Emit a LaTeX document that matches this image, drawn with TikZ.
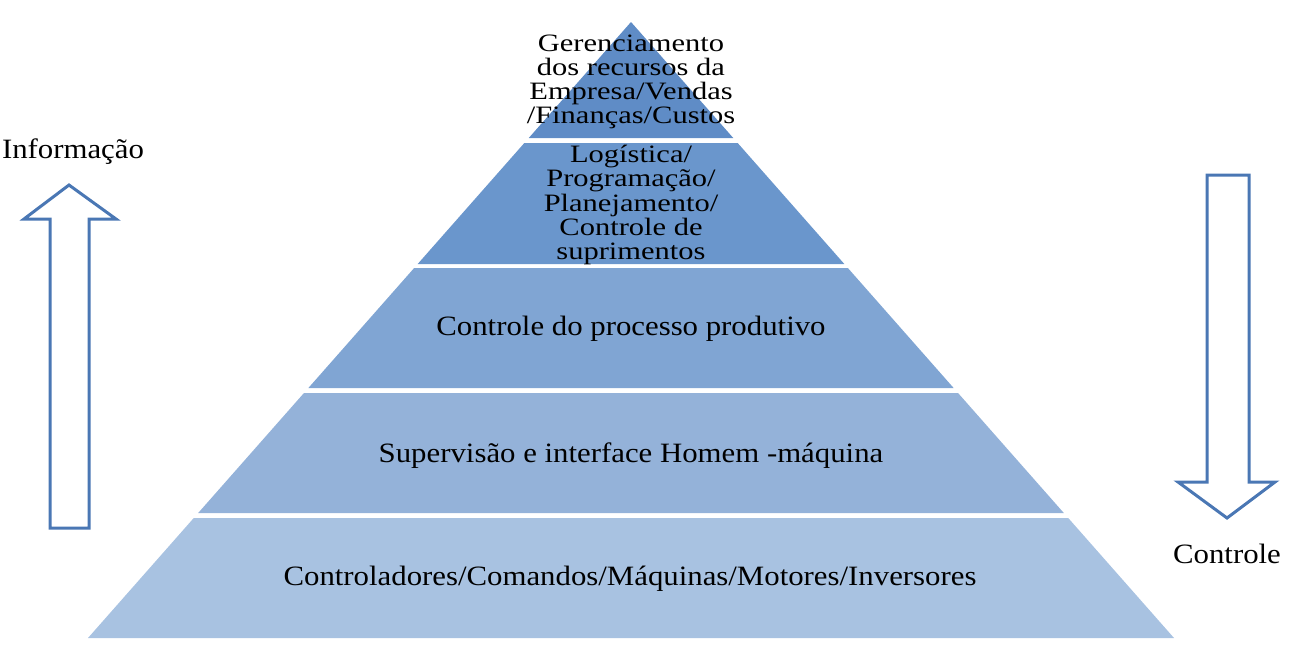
\documentclass[tikz,border=0pt]{standalone}
\usepackage{fontspec}
\setmainfont{Liberation Serif}[FakeStretch=1.1]
\usepackage{tikz}
\usetikzlibrary{calc, positioning}
\definecolor{bandA}{HTML}{5F8CC6}
\definecolor{bandB}{HTML}{6A96CC}
\definecolor{bandC}{HTML}{80A5D3}
\definecolor{bandD}{HTML}{94B2D9}
\definecolor{bandE}{HTML}{A8C2E1}
\definecolor{arrowBlue}{HTML}{4A77B4}

\begin{document}
\begin{tikzpicture}[x=1pt, y=-1pt,
    label/.style={align=center, inner sep=0pt, text=black, font=\fontsize{28}{24}\selectfont},
    block/.style={label, font=\fontsize{25}{24.2}\selectfont\addfontfeature{FakeStretch=1.22}},
    hollow/.style={draw=arrowBlue, line width=3pt, fill=white, line join=miter}]
    \useasboundingbox (0,0) rectangle (1314,653);

    % pyramid bands: top y / bottom y / colour
    \foreach \yt/\yb/\col in {22/138/bandA, 143/264/bandB, 268/388/bandC, 393/513/bandD, 518/638/bandE} {
        \pgfmathsetmacro\wt{0.8815*(\yt-22)}
        \pgfmathsetmacro\wb{0.8815*(\yb-22)}
        \fill[\col] ({631-\wt},\yt) -- ({631+\wt},\yt) -- ({631+\wb},\yb) -- ({631-\wb},\yb) -- cycle;
    }

    \node[block] (top) at (631,82) {Gerenciamento\\dos recursos da\\Empresa/Vendas\\/Finanças/Custos};
    \node[block] (logistics) at (631,205) {Logística/\\Programação/\\Planejamento/\\Controle de\\suprimentos};
    \node[label] (process) at (631,329) {Controle do processo produtivo};
    \node[label] (hmi) at (631,456) {Supervisão e interface Homem -máquina};
    \node[label] (field) at (630,579) {Controladores/Comandos/Máquinas/Motores/Inversores};

    % hollow arrows
    \draw[hollow] (69,185) -- (116,219) -- (89,219) -- (89,528) -- (50,528) -- (50,219) -- (24,219) -- cycle;
    \draw[hollow] (1227,518) -- (1275,482) -- (1249,482) -- (1249,175) -- (1207,175) -- (1207,482) -- (1178,482) -- cycle;

    \node[label] (info) at (73,152) {Informação};
    \node[label] (ctrl) at (1227,554) {Controle};
\end{tikzpicture}
\end{document}
